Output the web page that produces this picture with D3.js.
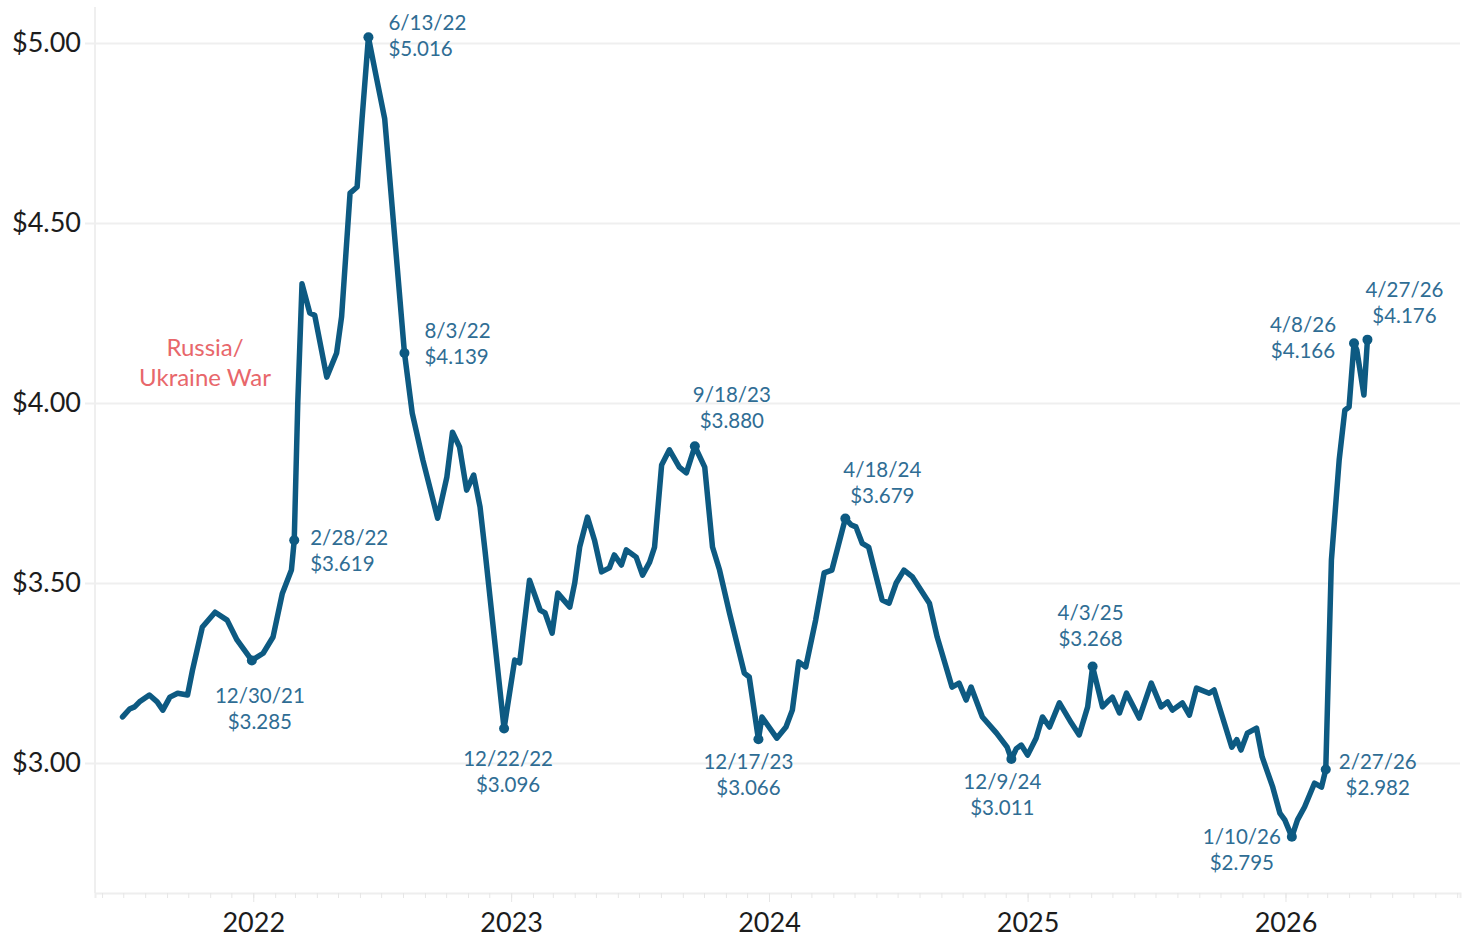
<!DOCTYPE html>
<html>
<head>
<meta charset="utf-8">
<script src="https://cdn.jsdelivr.net/npm/d3@7"></script>
<style>
  body { margin: 0; background: #fff; }
  svg { display: block; font-family: Lato, "Open Sans", sans-serif; }
</style>
</head>
<body>
<script>
// DATA =============================================
// national average regular gas price
var dates = [
  "2021-06-30","2021-07-10","2021-07-17","2021-07-24","2021-08-07","2021-08-18","2021-08-26","2021-09-05","2021-09-16","2021-09-30",
  "2021-10-07","2021-10-21","2021-11-08","2021-11-25","2021-12-09","2021-12-30",
  "2022-01-15","2022-01-29","2022-02-11","2022-02-24","2022-02-28","2022-03-05","2022-03-11",
  "2022-03-22","2022-03-29","2022-04-15","2022-04-29","2022-05-06","2022-05-18","2022-05-28",
  "2022-06-04","2022-06-13","2022-06-25","2022-07-06","2022-07-11","2022-08-03","2022-08-14",
  "2022-08-29","2022-09-19","2022-10-02","2022-10-10","2022-10-20","2022-10-30","2022-11-09",
  "2022-11-18","2022-11-25","2022-12-22",
  "2023-01-06","2023-01-13","2023-01-27","2023-02-11","2023-02-18","2023-02-28","2023-03-08",
  "2023-03-25","2023-04-01","2023-04-08","2023-04-19","2023-04-29","2023-05-09","2023-05-20",
  "2023-05-27","2023-06-06","2023-06-13","2023-06-27","2023-07-06","2023-07-16","2023-07-23",
  "2023-08-02","2023-08-13","2023-08-27","2023-09-06","2023-09-18","2023-10-02","2023-10-13",
  "2023-10-23","2023-11-06","2023-11-27","2023-12-04","2023-12-17","2023-12-22",
  "2024-01-12","2024-01-25","2024-02-03","2024-02-12","2024-02-22","2024-03-07","2024-03-19",
  "2024-03-30","2024-04-18","2024-04-26","2024-05-03","2024-05-12","2024-05-21","2024-06-09","2024-06-19","2024-06-29",
  "2024-07-10","2024-07-22","2024-08-15","2024-08-26","2024-09-16","2024-09-26","2024-10-06",
  "2024-10-13","2024-10-29","2024-11-18","2024-12-03","2024-12-09","2024-12-16","2024-12-23",
  "2025-01-01","2025-01-13","2025-01-22","2025-02-01","2025-02-15","2025-03-04","2025-03-15",
  "2025-03-27","2025-04-03","2025-04-17","2025-04-24","2025-05-01","2025-05-11","2025-05-21","2025-06-08",
  "2025-06-25","2025-07-09","2025-07-18","2025-07-25","2025-08-08","2025-08-18","2025-08-28","2025-09-15",
  "2025-09-22","2025-10-02","2025-10-17","2025-10-24","2025-10-30","2025-11-08","2025-11-21","2025-11-29",
  "2025-12-14","2025-12-24","2025-12-31",
  "2026-01-10","2026-01-18","2026-01-28","2026-02-11","2026-02-21","2026-02-27","2026-03-07",
  "2026-03-18","2026-03-26","2026-04-01","2026-04-08","2026-04-12","2026-04-22","2026-04-27"
];
var prices = [
  3.128,3.150,3.156,3.170,3.189,3.170,3.147,3.183,3.194,3.189,
  3.258,3.378,3.419,3.397,3.342,3.285,
  3.305,3.350,3.470,3.536,3.619,4.000,4.331,
  4.250,4.244,4.072,4.139,4.239,4.583,4.600,
  4.790,5.016,4.897,4.790,4.675,4.139,3.972,
  3.842,3.680,3.794,3.919,3.878,3.758,3.800,
  3.711,3.590,3.096,
  3.286,3.278,3.508,3.425,3.417,3.361,3.472,
  3.433,3.500,3.600,3.683,3.619,3.531,3.542,
  3.578,3.550,3.592,3.572,3.522,3.558,3.600,
  3.828,3.870,3.822,3.806,3.880,3.822,3.600,
  3.536,3.417,3.250,3.239,3.066,3.128,
  3.069,3.100,3.147,3.281,3.267,3.397,3.528,
  3.536,3.679,3.662,3.656,3.610,3.600,3.453,3.444,3.500,
  3.536,3.517,3.444,3.350,3.211,3.222,3.175,
  3.211,3.128,3.083,3.044,3.011,3.040,3.050,
  3.022,3.069,3.128,3.100,3.167,3.111,3.078,
  3.156,3.268,3.156,3.170,3.183,3.139,3.194,3.125,
  3.222,3.156,3.170,3.147,3.167,3.133,3.208,3.194,
  3.203,3.139,3.044,3.065,3.036,3.083,3.097,3.017,
  2.933,2.861,2.842,
  2.795,2.842,2.878,2.944,2.933,2.982,3.564,
  3.842,3.980,3.989,4.166,4.147,4.022,4.176
];

// labelled highs and lows
var markDates = ["2021-12-30","2022-02-28","2022-06-13","2022-08-03","2022-12-22","2023-09-18",
  "2023-12-17","2024-04-18","2024-12-09","2025-04-03","2026-01-10","2026-02-27","2026-04-08","2026-04-27"];

var yTicks = [3, 3.5, 4, 4.5, 5];
var eventLabel = ["Russia/", "Ukraine War"];

// label placement (px offsets from the point) =========
var markLayout = [
  {dx: 8, dy: 35, anchor: "middle"},
  {dx: 16, dy: -2, anchor: "start"},
  {dx: 20, dy: -14, anchor: "start"},
  {dx: 20, dy: -22, anchor: "start"},
  {dx: 4, dy: 30, anchor: "middle"},
  {dx: 37, dy: -51, anchor: "middle"},
  {dx: -10, dy: 23, anchor: "middle"},
  {dx: 37, dy: -49, anchor: "middle"},
  {dx: -9, dy: 23, anchor: "middle"},
  {dx: -2, dy: -54, anchor: "middle"},
  {dx: -50, dy: 0, anchor: "middle"},
  {dx: 52, dy: -8, anchor: "middle"},
  {dx: -51, dy: -18, anchor: "middle"},
  {dx: 37, dy: -50, anchor: "middle"}
];

// ==============================================================================

var width = 1466, height = 939;
var parse = d3.timeParse("%Y-%m-%d");
var fmtDate = d3.timeFormat("%-m/%-d/%y");

var data = dates.map((d, i) => ({key: d, date: parse(d), value: prices[i]}));

var x = d3.scaleTime()
    .domain([parse("2021-05-22"), parse("2026-09-05")])
    .range([95, 1460]);

var y = d3.scaleLinear()
    .domain([2.639, 5.1])
    .range([893, 7]);

var svg = d3.select("body").append("svg")
    .attr("width", width)
    .attr("height", height);

// gridlines + y labels
var yAxis = d3.axisLeft(y)
    .tickValues(yTicks)
    .tickSize(-(1460 - 85))
    .tickPadding(4)
    .tickFormat(d => "$" + d.toFixed(2));

svg.append("g")
    .attr("transform", "translate(85,0)")
    .call(yAxis)
    .attr("font-family", "Lato, sans-serif")
    .call(g => g.select(".domain").remove())
    .call(g => g.selectAll(".tick line").attr("stroke", "#efefef").attr("stroke-width", 2))
    .call(g => g.selectAll(".tick text")
      .attr("fill", "#1c1c1c")
      .attr("font-size", "27px"));

// left vertical line
svg.append("line")
    .attr("x1", 95).attr("x2", 95)
    .attr("y1", 7).attr("y2", 893)
    .attr("stroke", "#efefef")
    .attr("stroke-width", 2);

// x axis: month ticks + year labels
var xMinor = d3.axisBottom(x)
    .ticks(d3.timeMonth.every(1))
    .tickSize(5)
    .tickFormat("");

svg.append("g")
    .attr("transform", "translate(0,893)")
    .call(xMinor)
    .call(g => g.select(".domain").attr("stroke", "#eeeeee").attr("stroke-width", 2))
    .call(g => g.selectAll(".tick line").attr("stroke", "#e6e6e6"));

var xMajor = d3.axisBottom(x)
    .ticks(d3.timeYear.every(1))
    .tickSize(9)
    .tickPadding(11)
    .tickFormat(d3.timeFormat("%Y"));

svg.append("g")
    .attr("transform", "translate(0,893)")
    .call(xMajor)
    .attr("font-family", "Lato, sans-serif")
    .call(g => g.select(".domain").remove())
    .call(g => g.selectAll(".tick line").attr("stroke", "#e6e6e6"))
    .call(g => g.selectAll(".tick text")
      .attr("fill", "#1c1c1c")
      .attr("font-size", "27px"));

// price line
var line = d3.line()
    .x(d => x(d.date))
    .y(d => y(d.value));

svg.append("path")
    .datum(data)
    .attr("fill", "none")
    .attr("stroke", "#0d5a82")
    .attr("stroke-width", 5.5)
    .attr("stroke-linejoin", "round")
    .attr("stroke-linecap", "round")
    .attr("d", line);

// marked points
var marks = markDates.map((d, i) => {
  var p = data.find(e => e.key === d);
  return Object.assign({}, p, markLayout[i]);
});

svg.selectAll("circle.mark")
    .data(marks)
  .enter().append("circle")
    .attr("class", "mark")
    .attr("cx", d => x(d.date))
    .attr("cy", d => y(d.value))
    .attr("r", 5)
    .attr("fill", "#0d5a82");

var labels = svg.selectAll("text.mark")
    .data(marks)
  .enter().append("text")
    .attr("class", "mark")
    .attr("x", d => x(d.date) + d.dx)
    .attr("y", d => y(d.value) + d.dy)
    .attr("dy", ".35em")
    .attr("text-anchor", d => d.anchor)
    .attr("fill", "#2f6d94")
    .attr("font-size", "20.5px");

labels.append("tspan").text(d => fmtDate(d.date));
labels.append("tspan")
    .attr("x", d => x(d.date) + d.dx)
    .attr("dy", 26)
    .text(d => "$" + d.value.toFixed(3));

// event note
svg.append("text")
    .attr("x", 205)
    .attr("y", 356)
    .attr("dy", ".35em")
    .attr("text-anchor", "middle")
    .attr("fill", "#e8676b")
    .attr("font-size", "24px")
    .selectAll("tspan")
    .data(eventLabel)
  .enter().append("tspan")
    .attr("x", 205)
    .attr("dy", (d, i) => i ? 30 : 0)
    .text(d => d);
</script>
</body>
</html>
